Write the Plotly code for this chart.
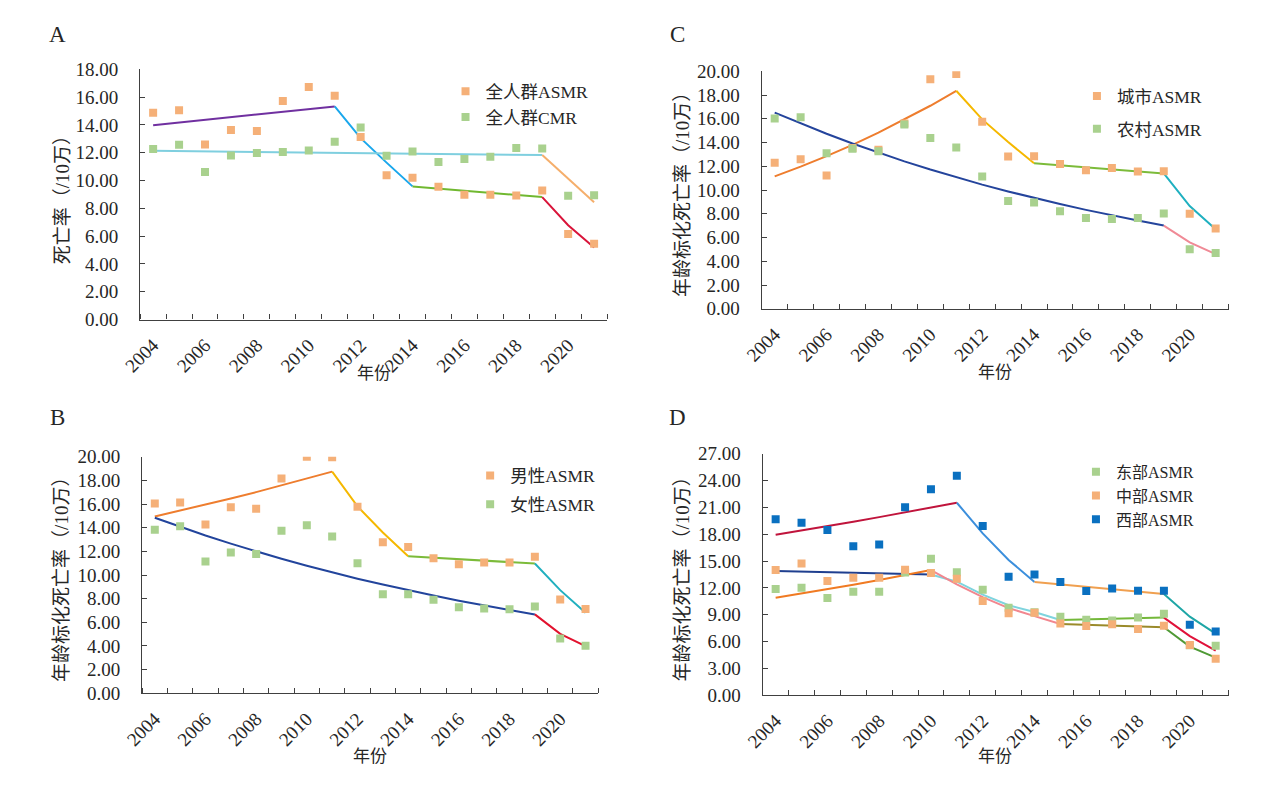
import plotly.graph_objects as go

# years on the category axis
years = list(range(2004, 2022))
label_years = years[::2]

# A: whole population
a_asmr = [14.87, 15.05, 12.60, 13.63, 13.56, 15.73, 16.74, 16.10, 13.14, 10.38,
          10.21, 9.56, 8.98, 8.98, 8.93, 9.28, 6.15, 5.45]
a_cmr = [12.27, 12.58, 10.61, 11.80, 11.99, 12.06, 12.16, 12.79, 13.82, 11.78,
         12.09, 11.34, 11.55, 11.71, 12.34, 12.30, 8.91, 8.95]
a_asmr_fit = [13.98, 14.17, 14.36, 14.55, 14.74, 14.94, 15.13, 15.33, 13.05, 11.29,
              9.58, 9.42, 9.27, 9.11, 8.96, 8.81, 6.78, 5.18]
a_cmr_fit = [12.14, 12.12, 12.10, 12.08, 12.06, 12.04, 12.02, 12.00, 11.98, 11.96,
             11.94, 11.92, 11.90, 11.88, 11.86, 11.83, 10.10, 8.44]
a_asmr_joints = [2004, 2011, 2014, 2019, 2021]
a_cmr_joints = [2004, 2019, 2021]

# B: sex
b_male = [16.05, 16.13, 14.27, 15.72, 15.61, 18.16, 20.00, 19.95, 15.77, 12.78,
          12.37, 11.41, 10.92, 11.06, 11.06, 11.55, 7.93, 7.13]
b_female = [13.83, 14.13, 11.14, 11.91, 11.77, 13.74, 14.21, 13.25, 11.00, 8.37,
            8.37, 7.90, 7.27, 7.16, 7.11, 7.33, 4.64, 4.01]
b_male_fit = [14.95, 15.44, 15.95, 16.47, 17.01, 17.57, 18.14, 18.74, 15.80, 13.60,
              11.58, 11.46, 11.34, 11.22, 11.10, 10.97, 8.72, 6.80]
b_female_fit = [14.84, 14.07, 13.34, 12.65, 11.99, 11.37, 10.78, 10.22, 9.69, 9.19,
                8.71, 8.26, 7.83, 7.42, 7.04, 6.67, 5.02, 3.98]
b_male_joints = [2004, 2011, 2014, 2019, 2021]
b_female_joints = [2004, 2019, 2021]

# C: urban / rural
c_urban = [12.30, 12.60, 11.23, 13.55, 13.40, 15.60, 19.34, 19.78, 15.75, 12.82,
           12.85, 12.19, 11.67, 11.86, 11.56, 11.59, 8.00, 6.77]
c_rural = [16.03, 16.14, 13.10, 13.48, 13.26, 15.53, 14.38, 13.59, 11.15, 9.07,
           8.96, 8.22, 7.64, 7.56, 7.64, 8.03, 5.01, 4.71]
c_urban_fit = [11.15, 11.97, 12.86, 13.81, 14.83, 15.93, 17.10, 18.36, 15.95, 14.05,
               12.25, 12.08, 11.91, 11.74, 11.57, 11.40, 8.65, 6.71]
c_rural_fit = [16.52, 15.60, 14.74, 13.92, 13.15, 12.42, 11.73, 11.08, 10.46, 9.88,
               9.33, 8.82, 8.33, 7.86, 7.43, 7.01, 5.59, 4.60]
c_urban_joints = [2004, 2011, 2014, 2019, 2021]
c_rural_joints = [2004, 2019, 2021]

# D: regions
d_east = [11.87, 12.01, 10.86, 11.58, 11.58, 13.72, 15.27, 13.75, 11.80, 9.77,
          9.27, 8.79, 8.43, 8.36, 8.69, 9.12, 5.60, 5.54]
d_central = [14.00, 14.73, 12.78, 13.14, 13.14, 14.04, 13.68, 13.03, 10.53, 9.16,
             9.23, 8.03, 7.75, 7.93, 7.42, 7.78, 5.61, 4.09]
d_west = [19.69, 19.29, 18.49, 16.65, 16.87, 21.03, 23.05, 24.54, 18.93, 13.25,
          13.50, 12.67, 11.65, 11.94, 11.69, 11.69, 7.89, 7.13]
d_east_fit = [13.90, 13.83, 13.77, 13.70, 13.63, 13.57, 13.50, 12.70, 11.26, 10.06,
              9.30, 8.42, 8.48, 8.54, 8.60, 8.68, 6.62, 5.00]
d_central_fit = [10.89, 11.36, 11.84, 12.35, 12.88, 13.43, 14.00, 12.40, 10.97, 9.75,
                 8.85, 7.96, 7.87, 7.78, 7.69, 7.60, 5.43, 4.20]
d_west_fit = [17.95, 18.42, 18.91, 19.41, 19.92, 20.44, 20.98, 21.53, 18.10, 15.13,
              12.67, 12.39, 12.12, 11.85, 11.59, 11.33, 8.79, 6.88]
d_east_joints = [2004, 2010, 2015, 2019, 2021]
d_central_joints = [2004, 2010, 2015, 2019, 2021]
d_west_joints = [2004, 2011, 2014, 2019, 2021]

ORANGE = "#F5B078"
GREEN = "#A9D18E"
BLUE = "#0A70C0"
AXIS = "#404040"
FONT = "Liberation Serif, Noto Sans CJK SC, serif"
W, H = 1270, 787


def add_fit(fig, fit, joints, colors, n):
    for k in range(len(joints) - 1):
        i0 = years.index(joints[k])
        i1 = years.index(joints[k + 1])
        fig.add_trace(go.Scatter(x=years[i0:i1 + 1], y=fit[i0:i1 + 1], mode="lines",
                                 line=dict(color=colors[k], width=2), showlegend=False,
                                 hoverinfo="skip", xaxis="x" + n, yaxis="y" + n))


def add_points(fig, vals, name, color, n, leg):
    fig.add_trace(go.Scatter(x=years, y=vals, mode="markers", name=name,
                             marker=dict(symbol="square", size=8, color=color),
                             xaxis="x" + n, yaxis="y" + n, legend=leg, legendgroup=name))


fig = go.Figure()

# A
add_fit(fig, a_asmr_fit, a_asmr_joints, ["#7030A0", "#1AA7EC", "#70B830", "#D9143A"], "")
add_fit(fig, a_cmr_fit, a_cmr_joints, ["#7FCFDF", "#F5AE6B"], "")
add_points(fig, a_asmr, "全人群ASMR", ORANGE, "", "legend")
add_points(fig, a_cmr, "全人群CMR", GREEN, "", "legend")

# C
add_fit(fig, c_urban_fit, c_urban_joints, ["#EE7D2E", "#F5B800", "#7CBB3A", "#1FB0C0"], "2")
add_fit(fig, c_rural_fit, c_rural_joints, ["#24449C", "#F08A96"], "2")
add_points(fig, c_urban, "城市ASMR", ORANGE, "2", "legend2")
add_points(fig, c_rural, "农村ASMR", GREEN, "2", "legend2")

# B
add_fit(fig, b_male_fit, b_male_joints, ["#EE7D2E", "#F5B800", "#7CBB3A", "#22B0BF"], "3")
add_fit(fig, b_female_fit, b_female_joints, ["#22449C", "#E2122E"], "3")
add_points(fig, b_male, "男性ASMR", ORANGE, "3", "legend3")
add_points(fig, b_female, "女性ASMR", GREEN, "3", "legend3")

# D
add_fit(fig, d_west_fit, d_west_joints, ["#C0143C", "#3C8FDC", "#F0A050", "#1FA6A6"], "4")
add_fit(fig, d_east_fit, d_east_joints, ["#1F3F8F", "#7FD4DE", "#74B83A", "#E0123A"], "4")
add_fit(fig, d_central_fit, d_central_joints, ["#F07A22", "#F2878F", "#9A8A2A", "#4F9A35"], "4")
add_points(fig, d_east, "东部ASMR", GREEN, "4", "legend4")
add_points(fig, d_central, "中部ASMR", ORANGE, "4", "legend4")
add_points(fig, d_west, "西部ASMR", BLUE, "4", "legend4")

bounds = [y - 0.5 for y in years] + [years[-1] + 0.5]
tickfont = dict(family=FONT, size=19, color="#262626")


def xax(x0, x1, anchor):
    return dict(domain=[x0 / W, x1 / W], anchor=anchor,
                range=[years[0] - 0.5, years[-1] + 0.5],
                tickmode="array", tickvals=label_years, ticktext=[str(y) for y in label_years],
                tickangle=-45, ticks="", ticklabelstandoff=6,
                showline=True, linecolor=AXIS, linewidth=1.3,
                showgrid=False, zeroline=False, tickfont=tickfont,
                minor=dict(tickmode="array", tickvals=bounds, ticks="inside", ticklen=5,
                           tickcolor=AXIS, tickwidth=1.3, showgrid=False))


def yax(top, bottom, anchor, ymax, step):
    return dict(domain=[1 - bottom / H, 1 - top / H], anchor=anchor, range=[0, ymax],
                tick0=0, dtick=step, tickformat=".2f", ticks="inside", ticklen=5,
                ticklabelstandoff=17,
                tickcolor=AXIS, tickwidth=1.3, showline=True, linecolor=AXIS, linewidth=1.3,
                showgrid=False, zeroline=False, tickfont=tickfont)


def leg(x, y, size, gap):
    return dict(x=x / W, y=1 - y / H, xanchor="left", yanchor="top", bgcolor="rgba(0,0,0,0)",
                font=dict(family=FONT, size=size, color="#262626"), traceorder="grouped",
                tracegroupgap=gap, itemclick=False)


annotations = []


def text(s, x, y, size, angle=0):
    annotations.append(dict(text=s, x=x / W, y=1 - y / H, xref="paper", yref="paper",
                            showarrow=False, textangle=angle, xanchor="center", yanchor="middle",
                            font=dict(family=FONT, size=size, color="#262626")))


text("A", 39, 25, 23)
text("C", 669, 25, 23)
text("B", 39, 419, 23)
text("D", 669, 419, 23)
text("死亡率（/10万）", 45, 190, 19, -90)
text("年龄标化死亡率（/10万）", 673, 185, 19, -90)
text("年龄标化死亡率（/10万）", 43, 580, 19, -90)
text("年龄标化死亡率（/10万）", 674, 580, 19, -90)
text("年份", 360, 373, 17)
text("年份", 991, 372, 17)
text("年份", 356, 767, 17)
text("年份", 991, 767, 17)

fig.update_layout(
    width=W, height=H, autosize=False,
    margin=dict(l=0, r=0, t=0, b=0),
    paper_bgcolor="white", plot_bgcolor="white",
    hovermode=False,
    xaxis=xax(123, 597, "y"), yaxis=yax(61, 318, "x", 18, 2),
    xaxis2=xax(754, 1228, "y2"), yaxis2=yax(63, 307, "x2", 20, 2),
    xaxis3=xax(125, 588, "y3"), yaxis3=yax(459, 702, "x3", 20, 2),
    xaxis4=xax(755, 1228, "y4"), yaxis4=yax(456, 704, "x4", 27, 3),
    legend=leg(433, 65, 17.5, 0),
    legend2=leg(1074, 70, 17.5, 7),
    legend3=leg(458, 460, 17.5, 3),
    legend4=leg(1073, 457, 16, 0),
    annotations=annotations,
)

fig.write_html("out.html", config={"displayModeBar": False},
               post_script="document.body.style.margin='0';")
